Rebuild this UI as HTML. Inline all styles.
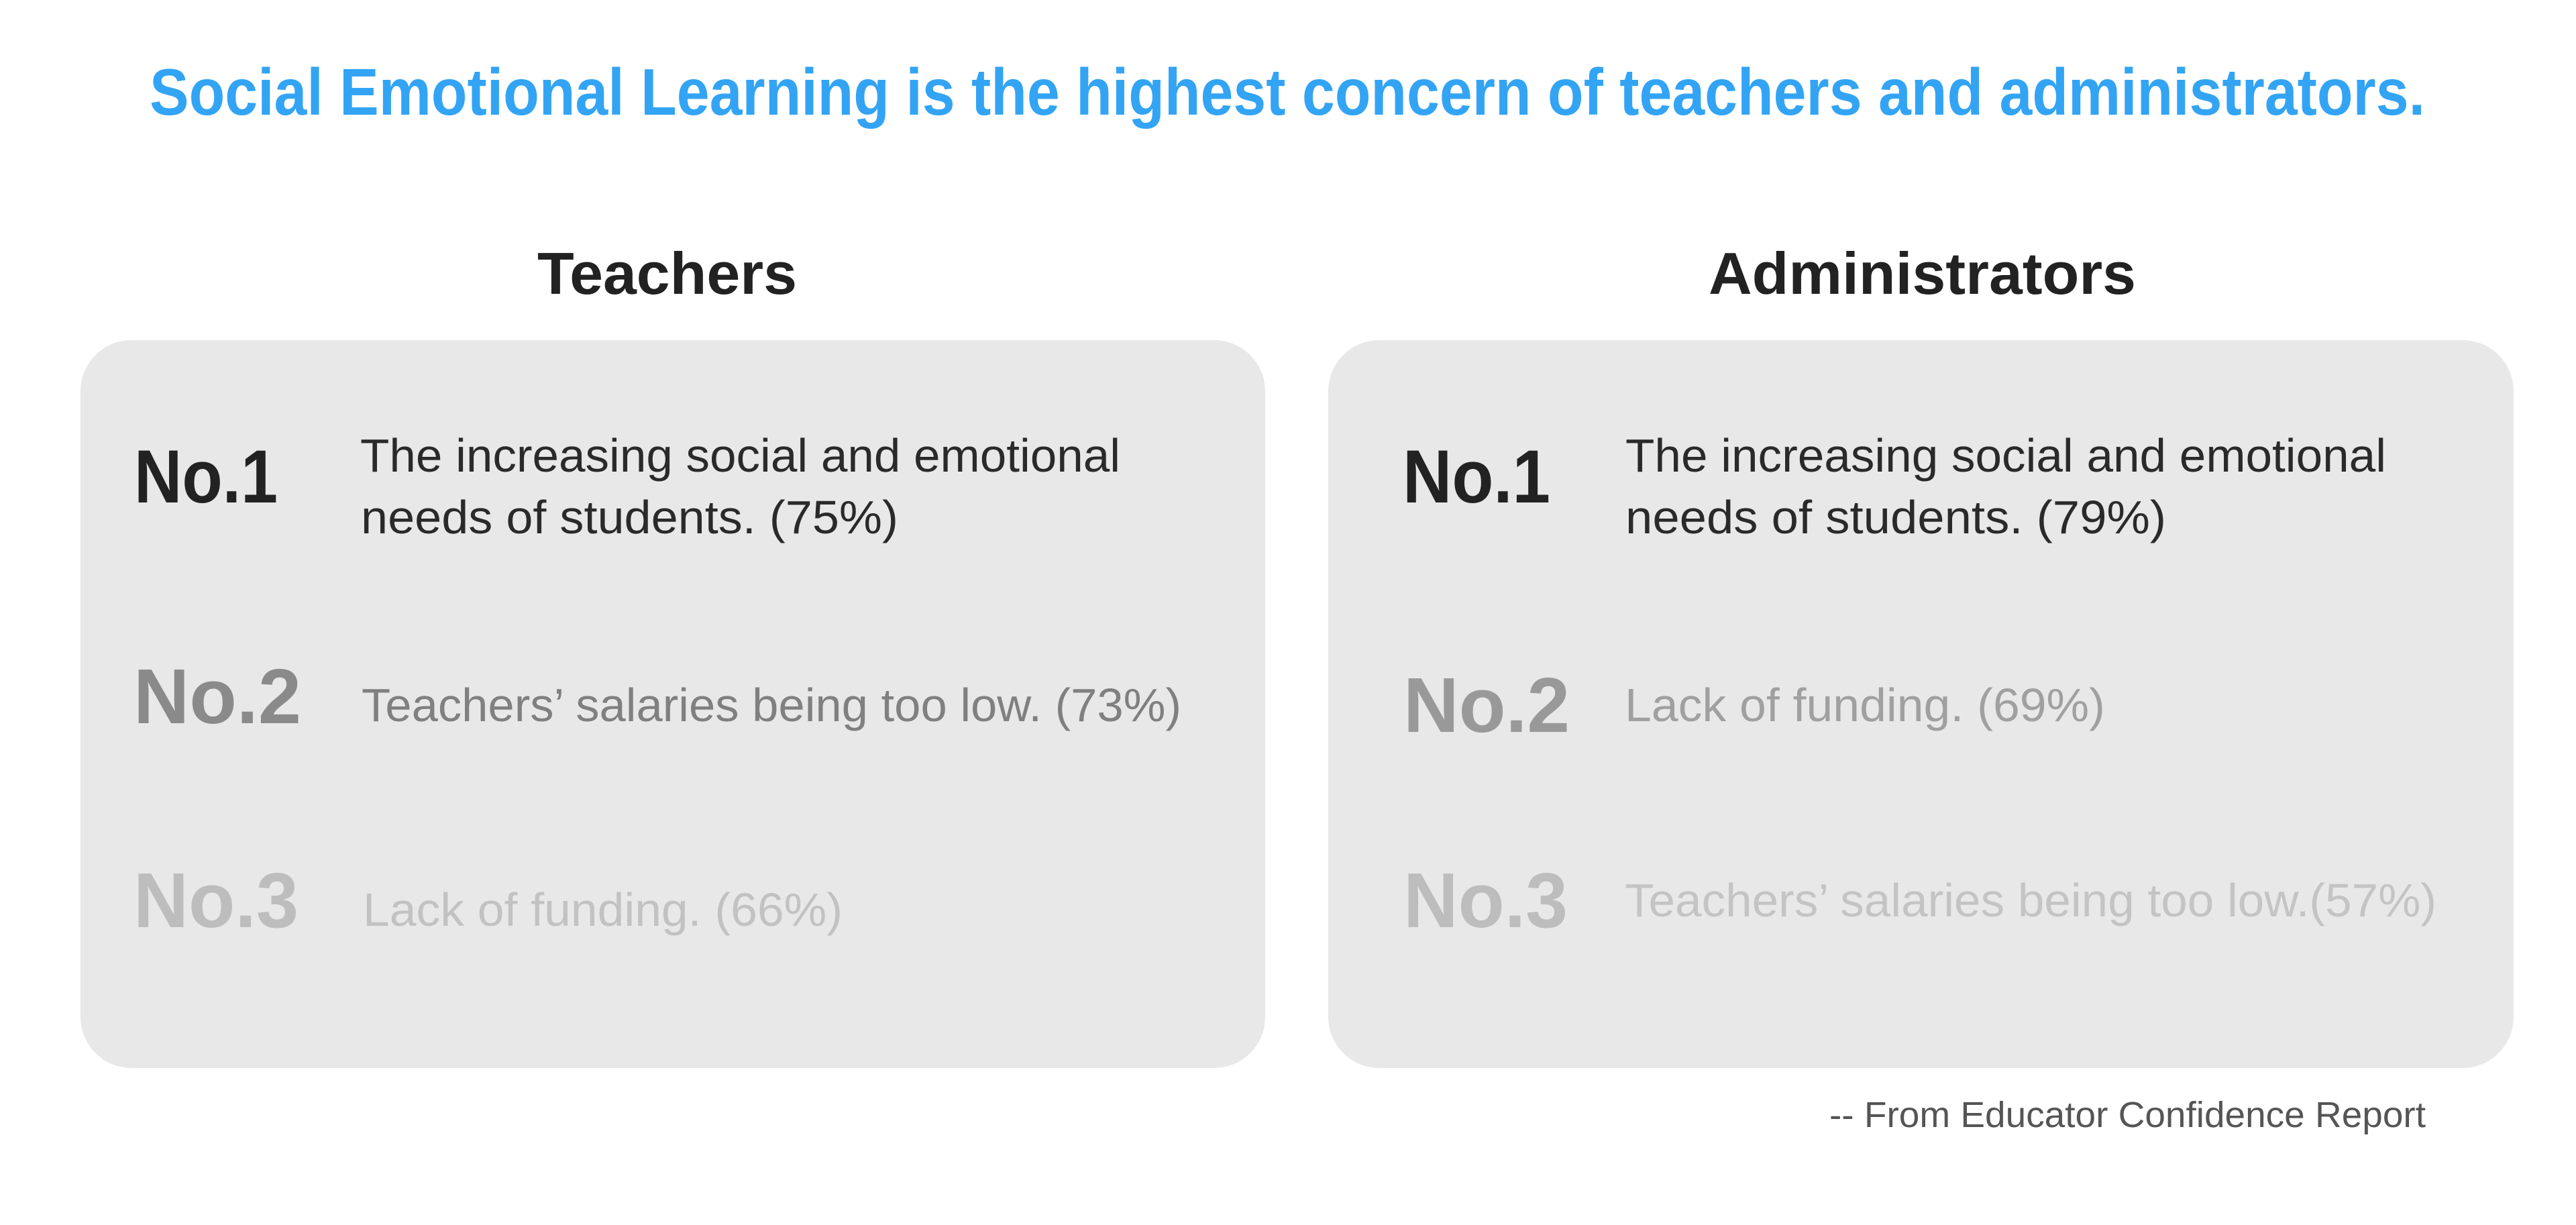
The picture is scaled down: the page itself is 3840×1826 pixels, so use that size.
<!DOCTYPE html>
<html lang="en">
<head>
<meta charset="utf-8">
<title>Social Emotional Learning concerns</title>
<style>
html,body{margin:0;padding:0;background:#fff;width:3840px;height:1826px;overflow:hidden}
svg{display:block}
text{font-family:"Liberation Sans",sans-serif;white-space:pre}
.rank{font-size:112px;font-weight:700}
.dim{font-size:116px}
.item{font-size:70px}
.head{font-size:88px;font-weight:700;fill:#222222}
</style>
</head>
<body>
<svg xmlns="http://www.w3.org/2000/svg" width="3840" height="1826" viewBox="0 0 3840 1826">
<rect x="0" y="0" width="3840" height="1826" fill="#ffffff"/>
<text x="223" y="171" font-size="98" font-weight="700" fill="#33a4f4" textLength="3392" lengthAdjust="spacingAndGlyphs">Social Emotional Learning is the highest concern of teachers and administrators.</text>

<text class="head" x="801" y="438" textLength="387" lengthAdjust="spacingAndGlyphs">Teachers</text>
<text class="head" x="2547" y="438" textLength="637" lengthAdjust="spacingAndGlyphs">Administrators</text>

<rect x="120" y="507" width="1766" height="1085" rx="76" ry="76" fill="#e8e8e8"/>
<rect x="1980" y="507" width="1767" height="1085" rx="76" ry="76" fill="#e8e8e8"/>

<text class="rank" x="200" y="749" fill="#222222" textLength="214" lengthAdjust="spacingAndGlyphs">No.1</text>
<text class="item" x="537" y="703" fill="#2a2a2a" textLength="1133" lengthAdjust="spacingAndGlyphs">The increasing social and emotional</text>
<text class="item" x="538" y="795" fill="#2a2a2a" textLength="801" lengthAdjust="spacingAndGlyphs">needs of students. (75%)</text>

<text class="rank dim" x="199" y="1078" fill="#8a8a8a" textLength="250" lengthAdjust="spacingAndGlyphs">No.2</text>
<text class="item" x="539" y="1075" fill="#808080" textLength="1222" lengthAdjust="spacingAndGlyphs">Teachers’ salaries being too low. (73%)</text>

<text class="rank dim" x="199" y="1382" fill="#bdbdbd" textLength="246" lengthAdjust="spacingAndGlyphs">No.3</text>
<text class="item" x="541" y="1380" fill="#c2c2c2" textLength="715" lengthAdjust="spacingAndGlyphs">Lack of funding. (66%)</text>

<text class="rank" x="2091" y="749" fill="#222222" textLength="220" lengthAdjust="spacingAndGlyphs">No.1</text>
<text class="item" x="2423" y="703" fill="#2a2a2a" textLength="1134" lengthAdjust="spacingAndGlyphs">The increasing social and emotional</text>
<text class="item" x="2423" y="795" fill="#2a2a2a" textLength="806" lengthAdjust="spacingAndGlyphs">needs of students. (79%)</text>

<text class="rank dim" x="2092" y="1091" fill="#999999" textLength="248" lengthAdjust="spacingAndGlyphs">No.2</text>
<text class="item" x="2422" y="1075" fill="#a0a0a0" textLength="716" lengthAdjust="spacingAndGlyphs">Lack of funding. (69%)</text>

<text class="rank dim" x="2092" y="1382" fill="#bdbdbd" textLength="245" lengthAdjust="spacingAndGlyphs">No.3</text>
<text class="item" x="2422" y="1366" fill="#c4c4c4" textLength="1210" lengthAdjust="spacingAndGlyphs">Teachers’ salaries being too low.(57%)</text>

<text x="2727" y="1680" font-size="54" fill="#555555" textLength="889" lengthAdjust="spacingAndGlyphs">-- From Educator Confidence Report</text>
</svg>
</body>
</html>
